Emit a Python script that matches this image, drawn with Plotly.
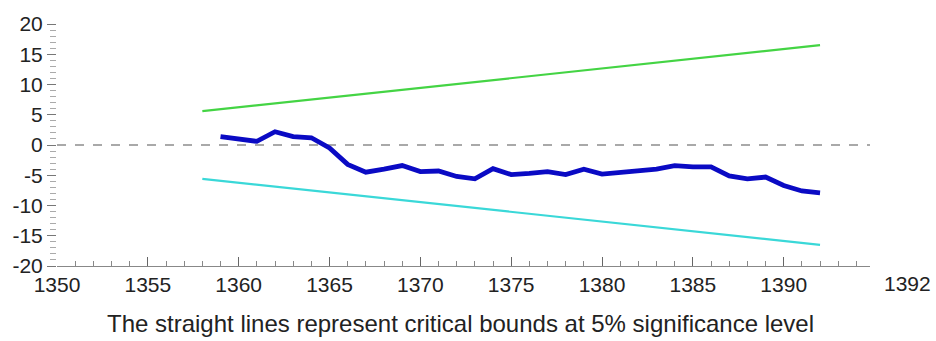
import plotly.graph_objects as go

years = list(range(1359, 1393))
cusum = [1.4, 1.1, 0.6, 2.2, 1.4, 1.2, -0.5, -3.2, -4.5, -4.0, -3.4, -4.4, -4.3,
         -5.2, -5.6, -3.9, -4.9, -4.7, -4.4, -4.9, -4.0, -4.8, -4.5, -4.4, -4.0,
         -3.4, -3.6, -3.6, -5.1, -5.6, -5.3, -6.7, -7.6, -7.9]
bound_years = [1358, 1392]
upper_bound = [5.6, 16.5]
lower_bound = [-5.6, -16.5]
x_ticks = [1350, 1355, 1360, 1365, 1370, 1375, 1380, 1385, 1390]
y_ticks = [20, 15, 10, 5, 0, -5, -10, -15, -20]
extra_label = "1392"
caption = "The straight lines represent critical bounds at 5% significance level"

FONT = "Liberation Sans, Arial, sans-serif"
X_MAX = 1394.75

fig = go.Figure()
fig.add_trace(go.Scatter(x=[1350, X_MAX], y=[0, 0], mode="lines",
                         line=dict(color="#555555", width=1.2, dash="dash"),
                         showlegend=False, hoverinfo="skip"))
fig.add_trace(go.Scatter(x=bound_years, y=upper_bound, mode="lines",
                         line=dict(color="#44d444", width=2.2), showlegend=False))
fig.add_trace(go.Scatter(x=bound_years, y=lower_bound, mode="lines",
                         line=dict(color="#3ad8d8", width=2.2), showlegend=False))
fig.add_trace(go.Scatter(x=years, y=cusum, mode="lines",
                         line=dict(color="#0a0ac4", width=4.8), showlegend=False))

fig.update_layout(
    width=936, height=341,
    margin=dict(l=51, r=66, t=18, b=75),
    paper_bgcolor="white", plot_bgcolor="white",
    font=dict(family=FONT, size=21, color="#222222"),
    xaxis=dict(range=[1350, X_MAX], tickvals=x_ticks,
               ticktext=[str(v) for v in x_ticks],
               showgrid=False, zeroline=False, showline=True,
               linecolor="#888888", linewidth=1,
               ticks="inside", ticklen=9, tickcolor="#666666",
               ticklabeloverflow="allow",
               minor=dict(dtick=1, tick0=1350, ticks="inside", ticklen=5,
                          tickcolor="#888888", showgrid=False),
               tickfont=dict(size=21, family=FONT, color="#222222")),
    yaxis=dict(range=[-20, 20], tickvals=y_ticks,
               ticktext=[str(v) for v in y_ticks],
               showgrid=False, zeroline=False, showline=False,
               ticks="outside", ticklen=9, tickcolor="#777777",
               ticklabeloverflow="allow",
               minor=dict(dtick=1, ticks="outside", ticklen=6,
                          tickcolor="#aaaaaa", showgrid=False),
               tickfont=dict(size=21, family=FONT, color="#222222")),
)

fig.add_annotation(x=1.046, y=0, xref="paper", yref="paper",
                   text=extra_label, showarrow=False, xanchor="center",
                   yanchor="top", yshift=-4,
                   font=dict(size=21, family=FONT, color="#222222"))
fig.add_annotation(x=0.496, y=-0.238, xref="paper", yref="paper",
                   text=caption, showarrow=False, xanchor="center",
                   yanchor="middle",
                   font=dict(size=24, family=FONT, color="#222222"))

fig.write_html("out.html",
               config={"displayModeBar": False},
               post_script="document.body.style.margin='0px';"
                           "document.body.style.overflow='hidden';")
